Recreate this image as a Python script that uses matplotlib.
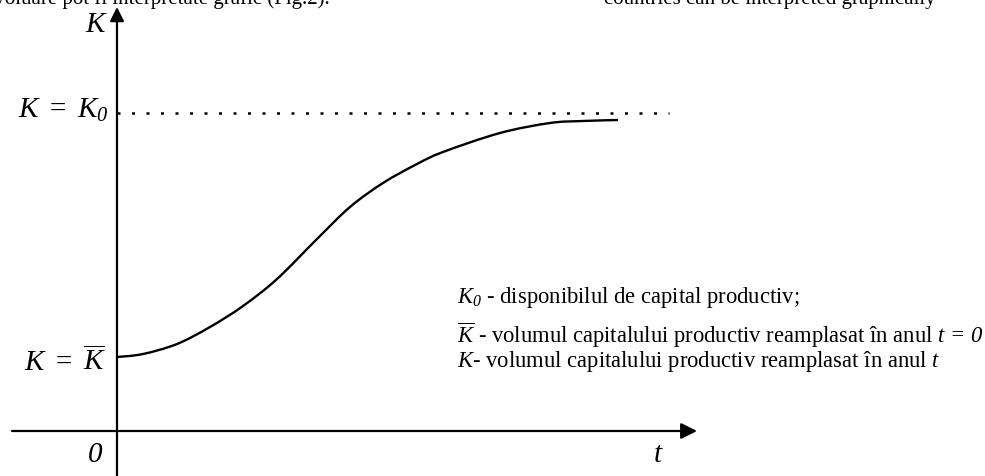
import matplotlib
matplotlib.use("Agg")
import matplotlib.pyplot as plt
from matplotlib.path import Path
from matplotlib.patches import PathPatch

plt.rcParams['font.family'] = ['Liberation Serif', 'DejaVu Serif']
plt.rcParams['mathtext.fontset'] = 'custom'
plt.rcParams['mathtext.rm'] = 'Liberation Serif:italic'
plt.rcParams['mathtext.it'] = 'Liberation Serif:italic'

# curve (t, K), origin at the axes crossing
t_vals = [0, 26, 60, 93, 126, 160, 200, 233, 266, 300, 326, 383, 433, 466, 501]
k_vals = [74, 77, 87, 104, 125, 152, 192, 224, 248, 267, 279, 298, 308, 310, 311]

K0 = 318
K_bar = 74
t_dotted_end = 552

legend_lines = [
    r'$K_0$ - disponibilul de capital productiv;',
    r'$\overline{K}$ - volumul capitalului productiv reamplasat în anul $t\,=\,0$',
    r'$K$- volumul capitalului productiv reamplasat în anul $t$',
]
legend_baselines = [129, 89, 65]

fig = plt.figure(figsize=(9.85, 4.77), dpi=100)
ax = fig.add_axes([0, 0, 1, 1])
ax.set_xlim(-117, 868)
ax.set_ylim(-45, 432)
ax.axis('off')

# axes with arrows
ax.annotate('', xy=(580, 0), xytext=(-105, 0),
            arrowprops=dict(arrowstyle='-|>', mutation_scale=24, lw=1.6, color='black',
                            shrinkA=0, shrinkB=0))
ax.annotate('', xy=(0, 424), xytext=(0, -45),
            arrowprops=dict(arrowstyle='-|>', mutation_scale=21, lw=1.6, color='black',
                            shrinkA=0, shrinkB=0))

# dotted K0 level
ax.plot([0, t_dotted_end], [K0, K0], color='black', lw=1.8, linestyle=(0, (1.2, 4.6)))

# smooth curve through the read points (Catmull-Rom as cubic Bezier segments)
pts = list(zip(t_vals, k_vals))
verts = [pts[0]]
codes = [Path.MOVETO]
for i in range(len(pts) - 1):
    p0 = pts[i - 1] if i > 0 else pts[i]
    p1 = pts[i]
    p2 = pts[i + 1]
    p3 = pts[i + 2] if i + 2 < len(pts) else pts[i + 1]
    c1 = (p1[0] + (p2[0] - p0[0]) / 6, p1[1] + (p2[1] - p0[1]) / 6)
    c2 = (p2[0] - (p3[0] - p1[0]) / 6, p2[1] - (p3[1] - p1[1]) / 6)
    verts += [c1, c2, p2]
    codes += [Path.CURVE4] * 3
ax.add_patch(PathPatch(Path(verts, codes), facecolor='none', edgecolor='black', lw=1.7))

# labels
ax.text(-20, 407, r'$K$', fontsize=21, ha='center', va='center')
ax.text(-8, K0 + 4, r'$K\;=\;K_0$', fontsize=21, ha='right', va='center')
ax.text(-11, K_bar - 4, r'$K\;=\;\overline{K}$', fontsize=21, ha='right', va='center')
ax.text(-22, -23, r'$0$', fontsize=21, ha='center', va='center')
ax.text(541, -23, r'$t$', fontsize=21, ha='center', va='center')

for line, y in zip(legend_lines, legend_baselines):
    ax.text(340, y, line, fontsize=16.3, ha='left', va='baseline')

# clipped text from the page above the figure
ax.text(213, 428, 'evoluare pot fi interpretate grafic (Fig.2).', fontsize=15,
        ha='right', va='baseline')
ax.text(487, 428, 'countries can be interpreted graphically', fontsize=15,
        ha='left', va='baseline')

fig.savefig('out.png', dpi=100)
